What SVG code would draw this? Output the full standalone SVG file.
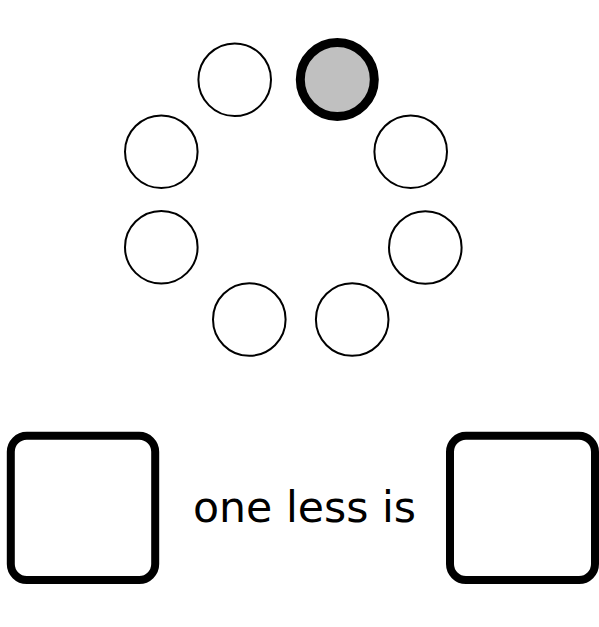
<svg xmlns="http://www.w3.org/2000/svg" width="599" height="627" viewBox="0 0 599 627">
<style>
.c{fill:#fff;stroke:#000;stroke-width:2}
.sel{fill:#c0c0c0;stroke:#000;stroke-width:9}
.box{fill:#fff;stroke:#000;stroke-width:8}
.t{font-family:"DejaVu Sans",sans-serif;font-size:43px;fill:#000}
</style>
<rect width="599" height="627" fill="#fff"/>
<g id="connectors"/>
<g id="c1"><circle class="c" cx="234.7" cy="79.7" r="36.3"/></g>
<g id="c2"><circle class="sel" cx="337.3" cy="79.5" r="37"/></g>
<g id="c3"><circle class="c" cx="161.3" cy="151.7" r="36.3"/></g>
<g id="c4"><circle class="c" cx="410.7" cy="151.7" r="36.3"/></g>
<g id="c5"><circle class="c" cx="161.3" cy="247.2" r="36.3"/></g>
<g id="c6"><circle class="c" cx="425.3" cy="247.5" r="36.3"/></g>
<g id="c7"><circle class="c" cx="249.3" cy="319.5" r="36.3"/></g>
<g id="c8"><circle class="c" cx="352.2" cy="319.5" r="36.3"/></g>
<g id="box1"><rect class="box" x="10.8" y="435.8" width="144.4" height="144.2" rx="16"/></g>
<g id="label"><text class="t" x="193" y="521.7" textLength="223" lengthAdjust="spacingAndGlyphs">one less is</text></g>
<g id="box2"><rect class="box" x="450" y="435.8" width="145" height="144.2" rx="16"/></g>
</svg>
